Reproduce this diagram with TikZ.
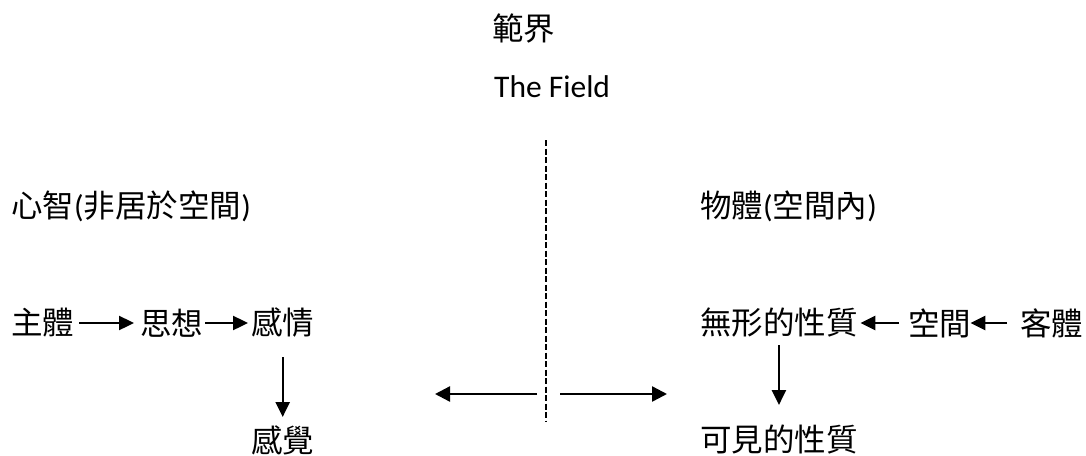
\documentclass[tikz,border=0pt]{standalone}
\usepackage{fontspec}
\setmainfont{Carlito}
\newfontfamily\cjk{Noto Sans CJK TC}
\usetikzlibrary{arrows.meta}
\begin{document}
\begin{tikzpicture}[x=1pt,y=-1pt,
  lbl/.style={inner sep=0pt,anchor=west,font=\fontsize{31.5}{38}\selectfont\cjk},
  latin/.style={inner sep=0pt,anchor=base west,font=\fontsize{31.5}{38}\selectfont},
  arr/.style={line width=2.4pt,-{Triangle[length=15pt,width=14pt]}},
  bigarr/.style={line width=2.4pt,-{Triangle[length=15pt,width=15pt]}},
  divider/.style={line width=2.3pt,dash pattern=on 6pt off 2.5pt}]
\useasboundingbox (0,0) rectangle (1086,455);
% titles
\node[lbl] (fanjie) at (492,28) {範界};
\node[latin] (field) at (494,97) {The Field};
% headings
\node[lbl] (mind) at (11,206) {心智{\rmfamily(}非居於空間{\rmfamily)}};
\node[lbl] (body) at (700,206) {物體{\rmfamily(}空間內{\rmfamily)}};
% left flow
\node[lbl] (zhuti) at (11,323) {主體};
\node[lbl] (sixiang) at (140,323) {思想};
\node[lbl] (ganqing) at (251,323) {感情};
\node[lbl] (ganjue) at (251,440) {感覺};
% right flow
\node[lbl] (wuxing) at (700,323) {無形的性質};
\node[lbl] (kongjian) at (908,323) {空間};
\node[lbl] (keti) at (1020,323) {客體};
\node[lbl] (kejian) at (700,440) {可見的性質};
% divider and outward arrows
\coordinate (dtop) at (546,140);
\coordinate (dbot) at (546,422);
\coordinate (lstart) at (537,394);
\coordinate (lend) at (435,394);
\coordinate (rstart) at (560,394);
\coordinate (rend) at (667,394);
\draw[divider] (dtop) -- (dbot);
\draw[bigarr] (lstart) -- (lend);
\draw[bigarr] (rstart) -- (rend);
% connectors
\draw[arr] ([xshift=5pt]zhuti.east) -- ([xshift=-6pt]sixiang.west);
\draw[arr] ([xshift=2pt]sixiang.east) -- ([xshift=-3pt]ganqing.west);
\draw[arr] ([yshift=-34pt]ganqing.center) -- ([yshift=23pt]ganjue.center);
\draw[arr] ([xshift=-9pt]kongjian.west) -- ([xshift=2.5pt]wuxing.east);
\draw[arr] ([xshift=-13pt]keti.west) -- ([xshift=-1pt]kongjian.east);
\draw[arr] ([yshift=-22pt]wuxing.center) -- ([yshift=35pt]kejian.center);
\end{tikzpicture}
\end{document}
